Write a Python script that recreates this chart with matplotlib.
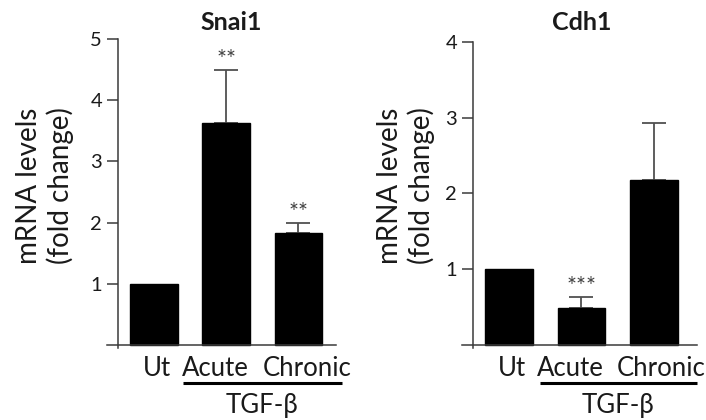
import matplotlib
matplotlib.use("Agg")
import matplotlib.pyplot as plt
from matplotlib.transforms import blended_transform_factory

plt.rcParams['font.family'] = ['Lato', 'DejaVu Sans']

categories = ["Ut", "Acute", "Chronic"]
group_label = "TGF-β"
ylabel = "mRNA levels\n(fold change)"

snai1_title = "Snai1"
snai1_values = [1.0, 3.62, 1.83]
snai1_err = [0.0, 0.88, 0.17]
snai1_stars = ["", "**", "**"]
snai1_ticks = [1, 2, 3, 4, 5]

cdh1_title = "Cdh1"
cdh1_values = [1.0, 0.49, 2.18]
cdh1_err = [0.0, 0.14, 0.75]
cdh1_stars = ["", "***", ""]
cdh1_ticks = [1, 2, 3, 4]

W, H = 706, 420
fig = plt.figure(figsize=(W / 100, H / 100), dpi=100)

text_col = "#1a1a1a"
line_col = "#3a3a3a"


def px(x, y):
    return x / W, 1 - y / H


def panel(rect, title, vals, errs, stars, ticks, ymin, ymax, xlim, spine_frac,
          title_x, ylab_x, label_offsets, line_span):
    ax = fig.add_axes(rect)
    for sp in ["top", "right"]:
        ax.spines[sp].set_visible(False)
    ax.spines["left"].set_position(("axes", spine_frac))
    ax.spines["bottom"].set_position(("data", 0))
    for sp in ["left", "bottom"]:
        ax.spines[sp].set_color(line_col)
        ax.spines[sp].set_linewidth(1.1)

    pos = list(range(len(categories)))
    ax.bar(pos, vals, width=0.66, color="black", edgecolor="black", zorder=2)
    for p, v, e, s in zip(pos, vals, errs, stars):
        if e > 0:
            ax.errorbar([p], [v], yerr=[[0], [e]], fmt="none", ecolor="#505050",
                        elinewidth=1.3, capsize=8.5, capthick=1.3, zorder=1)
        if s:
            ax.annotate(s, (p, v + e), xytext=(0, 0), textcoords="offset points",
                        ha="center", va="bottom", fontsize=17, color="#404040")
    ax.set_xlim(*xlim)
    ax.set_ylim(ymin, ymax)
    ax.set_xticks([])
    ax.set_yticks(ticks)
    ax.set_yticklabels([str(t) for t in ticks])
    ax.tick_params(axis="y", direction="out", length=8, width=1.1,
                   color=line_col, pad=3.5, labelsize=14.5, labelcolor=text_col)

    tr = blended_transform_factory(ax.transData, fig.transFigure)
    for p, c, off in zip(pos, categories, label_offsets):
        ax.text(p + off, 1 - 368 / H, c, transform=tr, ha="center", va="center",
                fontsize=18.5, color=text_col, clip_on=False)
    ax.plot(line_span, [1 - 383 / H] * 2, transform=tr, color="black",
            lw=2.2, clip_on=False, solid_capstyle="butt")
    ax.text(sum(line_span) / 2, 1 - 405 / H, group_label, transform=tr,
            ha="center", va="center", fontsize=18.5, color=text_col, clip_on=False)
    tx, ty = px(title_x, 22)
    fig.text(tx, ty, title, ha="center", va="center", fontsize=18,
             fontweight="bold", color=text_col)
    lx, ly = px(ylab_x, 186)
    fig.text(lx, ly, ylabel, ha="center", va="center", rotation=90,
             fontsize=20, color=text_col, linespacing=1.2)
    return ax


panel([107 / W, 72 / H, 229 / W, 309 / H], snai1_title, snai1_values,
      snai1_err, snai1_stars, snai1_ticks, -0.05, 5, (-0.651, 2.52), 0.048,
      231, 45, [0.04, -0.15, 0.12], [0.40, 2.60])
panel([462 / W, 72 / H, 235 / W, 306 / H], cdh1_title, cdh1_values,
      cdh1_err, cdh1_stars, cdh1_ticks, -0.04, 4, (-0.648, 2.593), 0.047,
      582, 406, [0.04, -0.15, 0.10], [0.43, 2.59])

fig.savefig("out.png", dpi=100)
